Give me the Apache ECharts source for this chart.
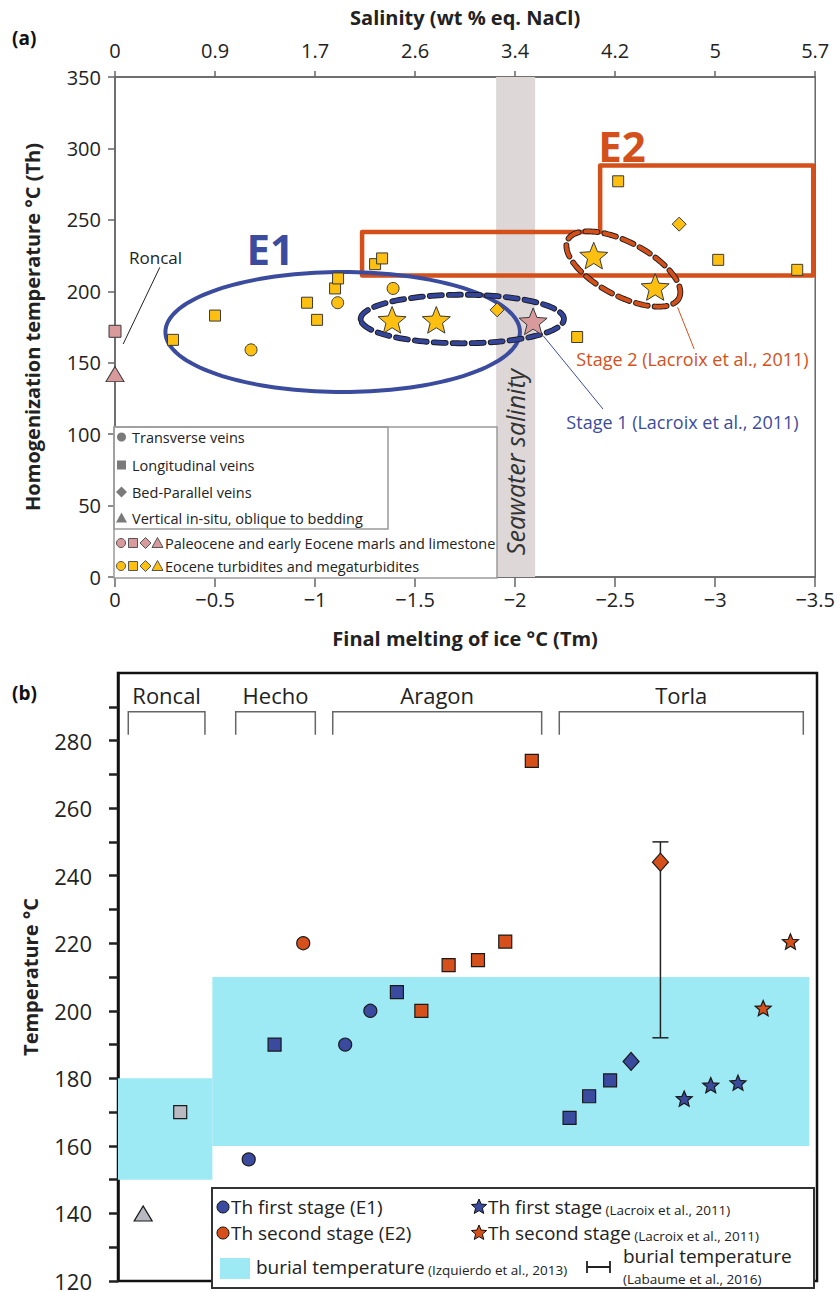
<!DOCTYPE html>
<html><head><meta charset="utf-8">
<script src="https://cdn.jsdelivr.net/npm/echarts@6/dist/echarts.min.js"></script>
<style>html,body{margin:0;padding:0;background:#fff}#c{width:838px;height:1292px}</style>
</head><body><div id="c"></div>
<script>
// ================= PANEL (a) DATA =================
const tmTickValues = [0, -0.5, -1, -1.5, -2, -2.5, -3, -3.5];
const salinityLabels = ['0', '0.9', '1.7', '2.6', '3.4', '4.2', '5', '5.7'];
const thTickValues = [0, 50, 100, 150, 200, 250, 300, 350];
// Eocene turbidites and megaturbidites (yellow)  [Tm, Th]
const eoTransverse = [[-0.68, 159], [-1.113, 192], [-1.39, 202]];
const eoLongitudinal = [[-0.29, 166], [-0.50, 183], [-0.96, 192], [-1.01, 180], [-1.10, 202], [-1.115, 209],
  [-1.30, 219], [-1.335, 223], [-2.31, 168], [-2.515, 277], [-3.015, 222], [-3.41, 215]];
const eoBedParallel = [[-1.91, 187], [-2.82, 247]];
// Paleocene and early Eocene marls and limestone (pink)
const paLongitudinal = [[0, 172]];
const paVertical = [[0, 142]];
// Lacroix et al., 2011 (stars)
const lacroixEocene = [[-1.385, 180], [-1.606, 180], [-2.393, 225], [-2.70, 203]];
const lacroixPaleo = [[-2.09, 179]];
// Seawater salinity band [Tm from, Tm to]
const seawaterBand = [-1.905, -2.10];
// Interpretive outlines (data units: centre, semi-axis vectors)
const e1Ellipse = { c: [-1.138, 171.5], u: [0.886, 0], v: [0, 42] };
const stage1Ellipse = { c: [-1.736, 180.6], u: [0.508, 0], v: [0, 17] };
const stage2Ellipse = { c: [-2.541, 215.6], u: [-0.278, -20.4], v: [-0.062, 16.7] };
const e2Outline = [[-1.235, 241.5], [-2.425, 241.5], [-2.425, 288], [-3.49, 288], [-3.49, 211], [-1.235, 211]];
// Annotation texts & leader lines (data units)
const annotA = [
  { key: 'E1', text: 'E1', x: -0.776, y: 230 },
  { key: 'E2', text: 'E2', x: -2.534, y: 302 },
  { key: 'roncal', text: 'Roncal', x: -0.07, y: 224 },
  { key: 'stage2', text: 'Stage 2 (Lacroix et al., 2011)', x: -2.306, y: 152.6 },
  { key: 'stage1', text: 'Stage 1 (Lacroix et al., 2011)', x: -2.256, y: 108.3 },
  { key: 'sea', text: 'Seawater salinity', x: -2.0, y: 80.5 }
];
const leadersA = [
  { key: 'roncal', from: [-0.224, 216.8], to: [-0.041, 163.1] },
  { key: 'stage2', from: [-2.812, 188.8], to: [-2.895, 159.6] },
  { key: 'stage1', from: [-2.140, 168.9], to: [-2.439, 117.6] }
];

// ================= PANEL (b) DATA =================
const tempTicks = [120, 140, 160, 180, 200, 220, 240, 260, 280];
const tempMinorTicks = [120, 130, 140, 150, 160, 170, 180, 190, 200, 210, 220, 230, 240, 250, 260, 270, 280, 290];
// x = position along the section (0..100), y = temperature °C
const bE1 = [[18.7, 156], [22.4, 190], [32.5, 190], [36.1, 200], [39.9, 205.5], [64.6, 168.3], [67.4, 174.7], [70.4, 179.4], [73.4, 185]];
const bE1Shapes = ['circle', 'rect', 'circle', 'circle', 'rect', 'rect', 'rect', 'rect', 'diamond'];
const bE2 = [[26.5, 220], [43.4, 200], [47.3, 213.5], [51.5, 215], [55.4, 220.5], [59.2, 274], [77.6, 244]];
const bE2Shapes = ['circle', 'rect', 'rect', 'rect', 'rect', 'rect', 'diamond'];
const bLacroix1 = [[81.0, 174], [84.8, 178], [88.7, 178.7]];
const bLacroix2 = [[92.3, 200.8], [96.2, 220.5]];
const bRoncal = [[8.9, 170], [3.6, 140]];
const bRoncalShapes = ['rect', 'triangle'];
// burial temperature (Izquierdo et al., 2013): [xFrom, xTo, Tmin, Tmax]
const burialRanges = [[0, 13.5, 150, 180], [13.5, 98.9, 160, 210]];
// burial temperature (Labaume et al., 2016): [x, Tmin, Tmax]
const labaumeRange = [[77.6, 192, 250]];
// localities: name, bracket from, bracket to
const localities = ['Roncal', 'Hecho', 'Aragon', 'Torla'];
const localitySpans = [[1.47, 12.44], [16.84, 28.23], [30.72, 60.61], [63.13, 98.04]];
const bracketLevels = [281.7, 288.5, 293.6]; // bracket foot, bracket top, label

// ================= STYLE =================
const FONT = '"Open Sans", "Noto Sans", sans-serif';
const YEL = '#fdc010', PINK = '#d99a9c', BLUE_A = '#3b4c9e', ORANGE_A = '#d4501b';
const BLUE_B = '#3a4a9e', ORANGE_B = '#d5501a', GRAY_B = '#b9b9c1', CYAN = '#9deaf4';
const EDGE = '#3a3a3a';

function starPath(inner) {
  let s = 'path://';
  for (let i = 0; i < 10; i++) {
    const r = i % 2 ? inner : 1, a = -Math.PI / 2 + i * Math.PI / 5;
    s += (i ? 'L' : 'M') + (r * Math.cos(a)).toFixed(4) + ' ' + (r * Math.sin(a)).toFixed(4);
  }
  return s + 'Z';
}
function starPoints(cx, cy, R, inner) {
  const pts = [];
  for (let i = 0; i < 10; i++) {
    const r = i % 2 ? R * inner : R, a = -Math.PI / 2 + i * Math.PI / 5;
    pts.push([cx + r * Math.cos(a), cy + r * Math.sin(a)]);
  }
  return pts;
}
const STAR_A = starPath(0.44), STAR_B = starPath(0.45);

function ellipsePts(api, e) {
  const pts = [];
  for (let i = 0; i <= 160; i++) {
    const t = i / 160 * 2 * Math.PI;
    pts.push(api.coord([e.c[0] + e.u[0] * Math.cos(t) + e.v[0] * Math.sin(t),
                        e.c[1] + e.u[1] * Math.cos(t) + e.v[1] * Math.sin(t)]));
  }
  return pts;
}
function ellipseSeries(e, kind) {
  return {
    type: 'custom', xAxisIndex: 0, yAxisIndex: 0, silent: true, z: 3, data: [e.c],
    renderItem: (p, api) => {
      const pts = ellipsePts(api, e);
      if (kind === 'solid') {
        return { type: 'polyline', shape: { points: pts }, style: { stroke: BLUE_A, lineWidth: 4, fill: null } };
      }
      const col = kind === 'blueDash' ? '#34449a' : '#d4501b';
      return { type: 'group', children: [
        { type: 'polyline', shape: { points: pts }, style: { stroke: '#1a1a1a', lineWidth: 5.8, fill: null, lineDash: [12, 7], lineCap: 'round' } },
        { type: 'polyline', shape: { points: pts }, style: { stroke: col, lineWidth: 4, fill: null, lineDash: [12, 7], lineCap: 'round' } }
      ]};
    }
  };
}

const annotStyle = {
  E1: { font: 'bold 42px ' + FONT, fill: BLUE_A, align: 'center', rot: 0 },
  E2: { font: 'bold 42px ' + FONT, fill: ORANGE_A, align: 'center', rot: 0 },
  roncal: { font: '17px ' + FONT, fill: '#222', align: 'left', rot: 0 },
  stage2: { font: '18px ' + FONT, fill: ORANGE_A, align: 'left', rot: 0 },
  stage1: { font: '18px ' + FONT, fill: BLUE_A, align: 'left', rot: 0 },
  sea: { font: 'italic 25px ' + FONT, fill: '#333', align: 'center', rot: Math.PI / 2 }
};
const leaderColor = { roncal: '#222', stage2: ORANGE_A, stage1: BLUE_A };

function scatterA(name, data, symbol, size, color) {
  return { name, type: 'scatter', xAxisIndex: 0, yAxisIndex: 0, data, symbol, symbolSize: size, symbolKeepAspect: true, z: 5,
    itemStyle: { color, borderColor: EDGE, borderWidth: 1, opacity: 1 } };
}
function scatterB(name, data, shapes, color) {
  return { name, type: 'scatter', xAxisIndex: 2, yAxisIndex: 1, z: 5,
    data: data.map((d, i) => ({ value: d, symbol: shapes ? shapes[i] : STAR_B,
      symbolSize: shapes ? (shapes[i] === 'diamond' ? [16, 18] : shapes[i] === 'triangle' ? [18, 15] : 13) : 16 })),
    symbolKeepAspect: true,
    itemStyle: { color, borderColor: '#1a1a1a', borderWidth: 1.2, opacity: 1 } };
}

const series = [
  // band
  { type: 'custom', xAxisIndex: 0, yAxisIndex: 0, silent: true, z: 1, data: [seawaterBand],
    renderItem: (p, api) => {
      const a = api.coord([seawaterBand[0], 350]), b = api.coord([seawaterBand[1], 0]);
      return { type: 'rect', shape: { x: a[0], y: a[1], width: b[0] - a[0], height: b[1] - a[1] }, style: { fill: '#ddd7d8' } };
    } },
  // E2 outline
  { type: 'custom', xAxisIndex: 0, yAxisIndex: 0, silent: true, z: 3, data: [e2Outline[0]],
    renderItem: (p, api) => ({ type: 'polygon', shape: { points: e2Outline.map(d => api.coord(d)) },
      style: { stroke: ORANGE_A, lineWidth: 4.5, fill: null, lineJoin: 'round' } }) },
  ellipseSeries(e1Ellipse, 'solid'),
  ellipseSeries(stage1Ellipse, 'blueDash'),
  ellipseSeries(stage2Ellipse, 'orangeDash'),
  // leader lines
  { type: 'custom', xAxisIndex: 0, yAxisIndex: 0, silent: true, z: 3, data: leadersA.map(l => l.from),
    renderItem: (p, api) => {
      const l = leadersA[p.dataIndex], a = api.coord(l.from), b = api.coord(l.to);
      return { type: 'line', shape: { x1: a[0], y1: a[1], x2: b[0], y2: b[1] }, style: { stroke: leaderColor[l.key], lineWidth: 1 } };
    } },
  // annotation texts
  { type: 'custom', xAxisIndex: 0, yAxisIndex: 0, silent: true, z: 6, data: annotA.map(a => [a.x, a.y]),
    renderItem: (p, api) => {
      const a = annotA[p.dataIndex], s = annotStyle[a.key], c = api.coord([a.x, a.y]);
      return { type: 'text', x: c[0], y: c[1], rotation: s.rot,
        style: { text: a.text, font: s.font, fill: s.fill, align: s.align, verticalAlign: 'middle' } };
    } },
  scatterA('Transverse veins', eoTransverse, 'circle', 12, YEL),
  scatterA('Longitudinal veins', eoLongitudinal, 'rect', 11, YEL),
  scatterA('Bed-Parallel veins', eoBedParallel, 'diamond', 14, YEL),
  scatterA('Longitudinal veins (marls)', paLongitudinal, 'rect', 12, PINK),
  scatterA('Vertical in-situ', paVertical, 'triangle', [18, 15], PINK),
  scatterA('Lacroix Eocene', lacroixEocene, STAR_A, 28, YEL),
  scatterA('Lacroix Paleocene', lacroixPaleo, STAR_A, 28, PINK),

  // ---------- panel b ----------
  { type: 'custom', xAxisIndex: 2, yAxisIndex: 1, silent: true, z: 1, data: burialRanges.map(r => [r[0], r[2]]),
    renderItem: (p, api) => {
      const r = burialRanges[p.dataIndex], a = api.coord([r[0], r[3]]), b = api.coord([r[1], r[2]]);
      return { type: 'rect', shape: { x: a[0], y: a[1], width: b[0] - a[0], height: b[1] - a[1] }, style: { fill: CYAN } };
    } },
  { type: 'custom', xAxisIndex: 2, yAxisIndex: 1, silent: true, z: 3, data: labaumeRange.map(r => [r[0], r[1]]),
    renderItem: (p, api) => {
      const r = labaumeRange[p.dataIndex], a = api.coord([r[0], r[2]]), b = api.coord([r[0], r[1]]);
      return { type: 'group', children: [
        { type: 'line', shape: { x1: a[0], y1: a[1], x2: b[0], y2: b[1] }, style: { stroke: '#222', lineWidth: 1.5 } },
        { type: 'line', shape: { x1: a[0] - 8, y1: a[1], x2: a[0] + 8, y2: a[1] }, style: { stroke: '#222', lineWidth: 1.5 } },
        { type: 'line', shape: { x1: b[0] - 8, y1: b[1], x2: b[0] + 8, y2: b[1] }, style: { stroke: '#222', lineWidth: 1.5 } }
      ]};
    } },
  { type: 'custom', xAxisIndex: 2, yAxisIndex: 1, silent: true, z: 3, data: localitySpans.map(s => [s[0], bracketLevels[1]]),
    renderItem: (p, api) => {
      const s = localitySpans[p.dataIndex];
      const p1 = api.coord([s[0], bracketLevels[0]]), p2 = api.coord([s[0], bracketLevels[1]]),
            p3 = api.coord([s[1], bracketLevels[1]]), p4 = api.coord([s[1], bracketLevels[0]]),
            t = api.coord([(s[0] + s[1]) / 2, bracketLevels[2]]);
      return { type: 'group', children: [
        { type: 'polyline', shape: { points: [p1, p2, p3, p4] }, style: { stroke: '#666', lineWidth: 1.5, fill: null } },
        { type: 'text', x: t[0], y: t[1], style: { text: localities[p.dataIndex], font: '22px ' + FONT, fill: '#222', align: 'center', verticalAlign: 'middle' } }
      ]};
    } },
  scatterB('Roncal', bRoncal, bRoncalShapes, GRAY_B),
  scatterB('Th first stage (E1)', bE1, bE1Shapes, BLUE_B),
  scatterB('Th second stage (E2)', bE2, bE2Shapes, ORANGE_B),
  scatterB('Th first stage (Lacroix et al., 2011)', bLacroix1, null, BLUE_B),
  scatterB('Th second stage (Lacroix et al., 2011)', bLacroix2, null, ORANGE_B)
];

// ---------- legends (graphic) ----------
const legA = { x: 114, y: 427, w: 383, h: 151, iw: 274, ih: 102 };
const legARows = ['Transverse veins', 'Longitudinal veins', 'Bed-Parallel veins', 'Vertical in-situ, oblique to bedding'];
const legARowY = [437, 465, 492, 518];
const legAColorRows = ['Paleocene and early Eocene marls and limestone', 'Eocene turbidites and megaturbidites'];
const legAColorY = [543, 566];
function markerEl(shape, cx, cy, s, fill, stroke) {
  const st = { fill, stroke: stroke || null, lineWidth: stroke ? 1 : 0 };
  if (shape === 'circle') return { type: 'circle', shape: { cx, cy, r: s / 2 }, style: st };
  if (shape === 'rect') return { type: 'rect', shape: { x: cx - s / 2, y: cy - s / 2, width: s, height: s }, style: st };
  if (shape === 'diamond') return { type: 'polygon', shape: { points: [[cx, cy - s / 2 - 1], [cx + s / 2 + 1, cy], [cx, cy + s / 2 + 1], [cx - s / 2 - 1, cy]] }, style: st };
  if (shape === 'triangle') return { type: 'polygon', shape: { points: [[cx, cy - s / 2 - 1], [cx + s / 2 + 1, cy + s / 2], [cx - s / 2 - 1, cy + s / 2]] }, style: st };
  return { type: 'polygon', shape: { points: starPoints(cx, cy, s / 2, 0.45) }, style: st };
}
const shapes4 = ['circle', 'rect', 'diamond', 'triangle'];
const graphic = [
  { type: 'text', x: 12, y: 38, style: { text: '(a)', font: 'bold 19px ' + FONT, fill: '#111', verticalAlign: 'middle' } },
  { type: 'text', x: 12, y: 693, style: { text: '(b)', font: 'bold 19px ' + FONT, fill: '#111', verticalAlign: 'middle' } },
  { type: 'rect', z: 50, shape: { x: legA.x, y: legA.y, width: legA.w, height: legA.h }, style: { fill: '#fff', stroke: '#9a9a9a', lineWidth: 1.5 } },
  { type: 'rect', z: 51, shape: { x: legA.x, y: legA.y, width: legA.iw, height: legA.ih }, style: { fill: null, stroke: '#9a9a9a', lineWidth: 1.5 } }
];
legARows.forEach((t, i) => {
  graphic.push(Object.assign(markerEl(shapes4[i], 121.5, legARowY[i], 9, '#7a7a7a'), { z: 52 }));
  graphic.push({ type: 'text', z: 52, x: 132, y: legARowY[i], style: { text: t, font: '14.5px ' + FONT, fill: '#222', verticalAlign: 'middle' } });
});
legAColorRows.forEach((t, i) => {
  const col = i === 0 ? PINK : YEL;
  [121, 133, 145.5, 157.5].forEach((x, k) => graphic.push(Object.assign(markerEl(shapes4[k], x, legAColorY[i], 9, col, '#555'), { z: 52 })));
  graphic.push({ type: 'text', z: 52, x: 165, y: legAColorY[i], style: { text: t, font: '14.5px ' + FONT, fill: '#222', verticalAlign: 'middle' } });
});
// panel b legend
graphic.push({ type: 'rect', z: 50, shape: { x: 212, y: 1188, width: 602, height: 100 }, style: { fill: '#fff', stroke: '#333', lineWidth: 2 } });
const richB = { a: { font: '19px ' + FONT, fill: '#222', verticalAlign: 'bottom' }, b: { font: '13.5px ' + FONT, fill: '#222', verticalAlign: 'bottom' } };
graphic.push(Object.assign(markerEl('circle', 223, 1207, 12, BLUE_B, '#111'), { z: 52 }));
graphic.push({ type: 'text', z: 52, x: 231, y: 1207, style: { text: 'Th first stage (E1)', font: '19px ' + FONT, fill: '#222', verticalAlign: 'middle' } });
graphic.push(Object.assign(markerEl('circle', 223, 1233, 12, ORANGE_B, '#111'), { z: 52 }));
graphic.push({ type: 'text', z: 52, x: 231, y: 1233, style: { text: 'Th second stage (E2)', font: '19px ' + FONT, fill: '#222', verticalAlign: 'middle' } });
graphic.push({ type: 'rect', z: 52, shape: { x: 220, y: 1258, width: 30, height: 21 }, style: { fill: CYAN } });
graphic.push({ type: 'text', z: 52, x: 256, y: 1267, style: { text: '{a|burial temperature} {b|(Izquierdo et al., 2013)}', rich: richB, verticalAlign: 'middle' } });
graphic.push(Object.assign(markerEl('star', 479, 1207, 16, BLUE_B, '#111'), { z: 52 }));
graphic.push({ type: 'text', z: 52, x: 488, y: 1207, style: { text: '{a|Th first stage} {b|(Lacroix et al., 2011)}', rich: richB, verticalAlign: 'middle' } });
graphic.push(Object.assign(markerEl('star', 479, 1233, 16, ORANGE_B, '#111'), { z: 52 }));
graphic.push({ type: 'text', z: 52, x: 488, y: 1233, style: { text: '{a|Th second stage} {b|(Lacroix et al., 2011)}', rich: richB, verticalAlign: 'middle' } });
graphic.push({ type: 'polyline', z: 52, shape: { points: [[587, 1261], [587, 1273], [587, 1267], [610, 1267], [610, 1261], [610, 1273]] }, style: { stroke: '#222', lineWidth: 1.8, fill: null } });
graphic.push({ type: 'text', z: 52, x: 623, y: 1256, style: { text: 'burial temperature', font: '19px ' + FONT, fill: '#222', verticalAlign: 'middle' } });
graphic.push({ type: 'text', z: 52, x: 623, y: 1279, style: { text: '(Labaume et al., 2016)', font: '13.5px ' + FONT, fill: '#222', verticalAlign: 'middle' } });

const axA = { lineStyle: { color: '#666', width: 1.5 } };
const titleStyle = { fontSize: 20, fontWeight: 'bold', color: '#222', fontFamily: FONT };
const option = {
  animation: false,
  backgroundColor: '#fff',
  textStyle: { fontFamily: FONT },
  grid: [
    { left: 115, top: 77, width: 703, height: 500, show: true, borderColor: '#666', borderWidth: 1.5, backgroundColor: 'transparent' },
    { left: 118, top: 673, width: 699, height: 615, show: true, borderColor: '#111', borderWidth: 2.5, backgroundColor: 'transparent' }
  ],
  xAxis: [
    { gridIndex: 0, type: 'value', min: -3.5, max: 0, interval: 0.5, inverse: true, position: 'bottom',
      name: 'Final melting of ice °C (Tm)', nameLocation: 'middle', nameGap: 51, nameTextStyle: titleStyle,
      axisLine: axA, axisTick: { length: 10, lineStyle: { color: '#666', width: 1.5 } }, splitLine: { show: false },
      axisLabel: { fontSize: 20, color: '#222', margin: 12, fontFamily: FONT,
        formatter: v => { const i = tmTickValues.findIndex(t => Math.abs(t - v) < 1e-6); return i === 0 ? '0' : '\u2212' + String(Math.abs(tmTickValues[i])); } } },
    { gridIndex: 0, type: 'value', min: -3.5, max: 0, interval: 0.5, inverse: true, position: 'top',
      name: 'Salinity (wt % eq. NaCl)', nameLocation: 'middle', nameGap: 50, nameTextStyle: titleStyle,
      axisLine: axA, axisTick: { length: 6, lineStyle: { color: '#666', width: 1.5 } }, splitLine: { show: false },
      axisLabel: { fontSize: 20, color: '#222', margin: 17, fontFamily: FONT,
        formatter: v => salinityLabels[tmTickValues.findIndex(t => Math.abs(t - v) < 1e-6)] } },
    { gridIndex: 1, type: 'value', min: 0, max: 100, show: false }
  ],
  yAxis: [
    { gridIndex: 0, type: 'value', min: 0, max: 350, interval: 50,
      name: 'Homogenization temperature °C (Th)', nameLocation: 'middle', nameGap: 73, nameTextStyle: titleStyle,
      axisLine: axA, axisTick: { length: 7, lineStyle: { color: '#666', width: 1.5 } }, splitLine: { show: false },
      axisLabel: { fontSize: 20, color: '#222', margin: 14, fontFamily: FONT,
        formatter: v => String(thTickValues[thTickValues.indexOf(v)]) } },
    { gridIndex: 1, type: 'value', min: 120, max: 300, interval: 10,
      name: 'Temperature °C', nameLocation: 'middle', nameGap: 78, nameTextStyle: titleStyle,
      axisLine: { lineStyle: { color: '#111', width: 2.5 } },
      axisTick: { length: 9, lineStyle: { color: '#222', width: 2.5 }, customValues: tempMinorTicks },
      splitLine: { show: false },
      axisLabel: { fontSize: 22, color: '#222', margin: 26, fontFamily: FONT, customValues: tempTicks } }
  ],
  series,
  graphic
};
const chart = echarts.init(document.getElementById('c'), null, { renderer: 'svg', width: 838, height: 1292 });
chart.setOption(option);
</script>
</body></html>
